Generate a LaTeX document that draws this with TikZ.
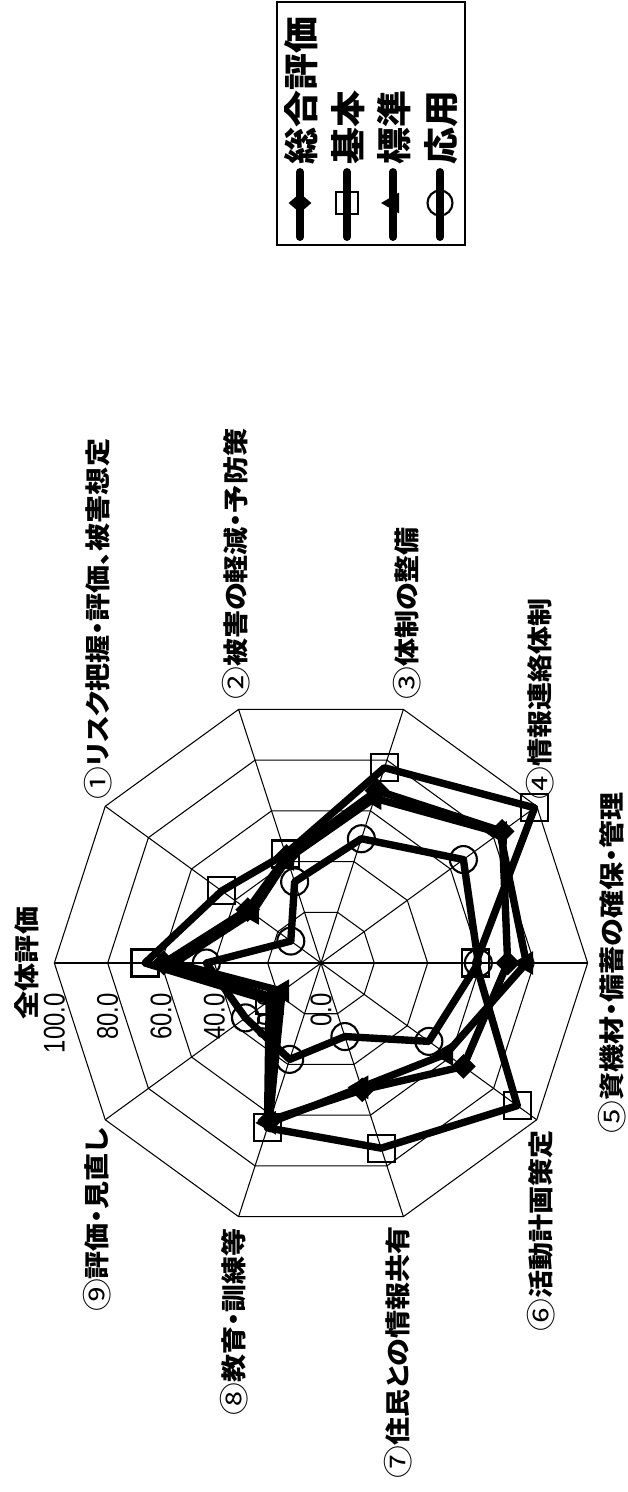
\documentclass[tikz,border=0pt]{standalone}
\usepackage{fontspec}
\setmainfont{Liberation Sans}
\newfontfamily\jpfont[RawFeature=+palt]{Noto Sans CJK JP}
\newcommand{\cnum}[1]{{\mdseries\fontsize{17}{17}\selectfont\raisebox{-0.8pt}{#1}}}
\usetikzlibrary{shapes.geometric}

\begin{document}
\begin{tikzpicture}[x=0.02cm,y=-0.02cm]
\tikzstyle{grid}=[black,line width=0.6pt];
\tikzstyle{val}=[rotate=90,xscale=0.8,anchor=east,inner sep=0pt,font=\fontsize{17}{18}\selectfont];
\tikzstyle{lbl}=[rotate=90,xscale=1.1,inner sep=0pt,font=\jpfont\bfseries\fontsize{14.5}{16}\selectfont];
\tikzstyle{leg}=[rotate=90,xscale=1.05,anchor=west,inner sep=0pt,font=\jpfont\bfseries\fontsize{20}{22}\selectfont];
\tikzstyle{ser}=[line width=4.2pt,line join=round,line cap=round];
\tikzstyle{sq}=[draw,rectangle,line width=1.2pt,minimum size=0.54cm,inner sep=0pt];
\tikzstyle{ci}=[draw,circle,line width=1.2pt,minimum size=0.54cm,inner sep=0pt];
\tikzstyle{di}=[fill,diamond,minimum width=0.5cm,minimum height=0.5cm,inner sep=0pt];
\tikzstyle{tri}=[fill,regular polygon,regular polygon sides=3,shape border rotate=90,minimum size=0.55cm,inner sep=0pt];

\useasboundingbox (0,0) rectangle (628,1492);

\begin{scope}[shift={(321,963)}]
      \foreach \r in {1,...,5}
        \draw[grid] (180:{53.333*\r}) \foreach \k in {1,...,9}{ -- ({180+36*\k}:{53.333*\r})} -- cycle;
      \foreach \k in {0,...,9}
        \draw[grid] (0,0) -- ({180+36*\k}:266.67);

      \foreach \v/\t in {0/0.0,1/20.0,2/40.0,3/60.0,4/80.0,5/100.0}
        \node[val] (v\v) at ({-53.333*\v},30) {\t};

      % 総合評価
      \foreach \v [count=\k from 0] in {59,34,42,68,84,70,66,50,62,22}
        \coordinate (ks\k) at ({180+36*\k}:{2.6667*\v});
      \draw[ser] (ks0) \foreach \k in {1,...,9}{ -- (ks\k)} -- cycle;
      \foreach \k in {0,...,9} \node[di] (ms\k) at (ks\k) {};

      % 基本
      \foreach \v [count=\k from 0] in {66,46,43,77,99,58,91,73,65,24}
        \coordinate (kh\k) at ({180+36*\k}:{2.6667*\v});
      \draw[ser] (kh0) \foreach \k in {1,...,9}{ -- (kh\k)} -- cycle;
      \foreach \k in {0,...,9} \node[sq] (mh\k) at (kh\k) {};

      % 標準
      \foreach \v [count=\k from 0] in {55,32,41,65,83,77,58,49,63,18}
        \coordinate (kt\k) at ({180+36*\k}:{2.6667*\v});
      \draw[ser] (kt0) \foreach \k in {1,...,9}{ -- (kt\k)} -- cycle;
      \foreach \k in {0,...,9} \node[tri] (mt\k) at (kt\k) {};

      % 応用
      \foreach \v [count=\k from 0] in {43,14,32,49,66,59,50,29,38,35}
        \coordinate (ko\k) at ({180+36*\k}:{2.6667*\v});
      \draw[ser] (ko0) \foreach \k in {1,...,9}{ -- (ko\k)} -- cycle;
      \foreach \k in {0,...,9} \node[ci] (mo\k) at (ko\k) {};
\end{scope}

        \node[lbl] (l0) at (27,963) {全体評価};
        \node[lbl,anchor=west] (l1) at (98,800) {\cnum{①}リスク把握・評価、被害想定};
        \node[lbl,anchor=west] (l2) at (236,700) {\cnum{②}被害の軽減・予防策};
        \node[lbl,anchor=west] (l3) at (407,700) {\cnum{③}体制の整備};
        \node[lbl,anchor=west] (l4) at (540,800) {\cnum{④}情報連絡体制};
        \node[lbl] (l5) at (612,963) {\cnum{⑤}資機材・備蓄の確保・管理};
        \node[lbl,anchor=east] (l6) at (541,1130) {\cnum{⑥}活動計画策定};
        \node[lbl,anchor=east] (l7) at (398,1226) {\cnum{⑦}住民との情報共有};
        \node[lbl,anchor=east] (l8) at (234,1228) {\cnum{⑧}教育・訓練等};
        \node[lbl,anchor=east] (l9) at (97,1128) {\cnum{⑨}評価・見直し};

% legend
\draw[line width=1pt] (277,2) rectangle (465,245);
\foreach \x in {300,347,393,440}
  \draw[ser,line width=4.5pt] (\x,172) -- (\x,237);
        \node[di,minimum width=0.46cm,minimum height=0.4cm] (g1) at (300,203) {};
        \node[sq,minimum size=0.44cm] (g2) at (347,203) {};
        \node[tri,minimum size=0.48cm] (g3) at (393,203) {};
        \node[ci,minimum size=0.5cm] (g4) at (440,203) {};
        \node[leg] (t1) at (301,165) {総合評価};
        \node[leg] (t2) at (348,165) {基本};
        \node[leg] (t3) at (394,165) {標準};
        \node[leg] (t4) at (441,165) {応用};

\end{tikzpicture}
\end{document}
